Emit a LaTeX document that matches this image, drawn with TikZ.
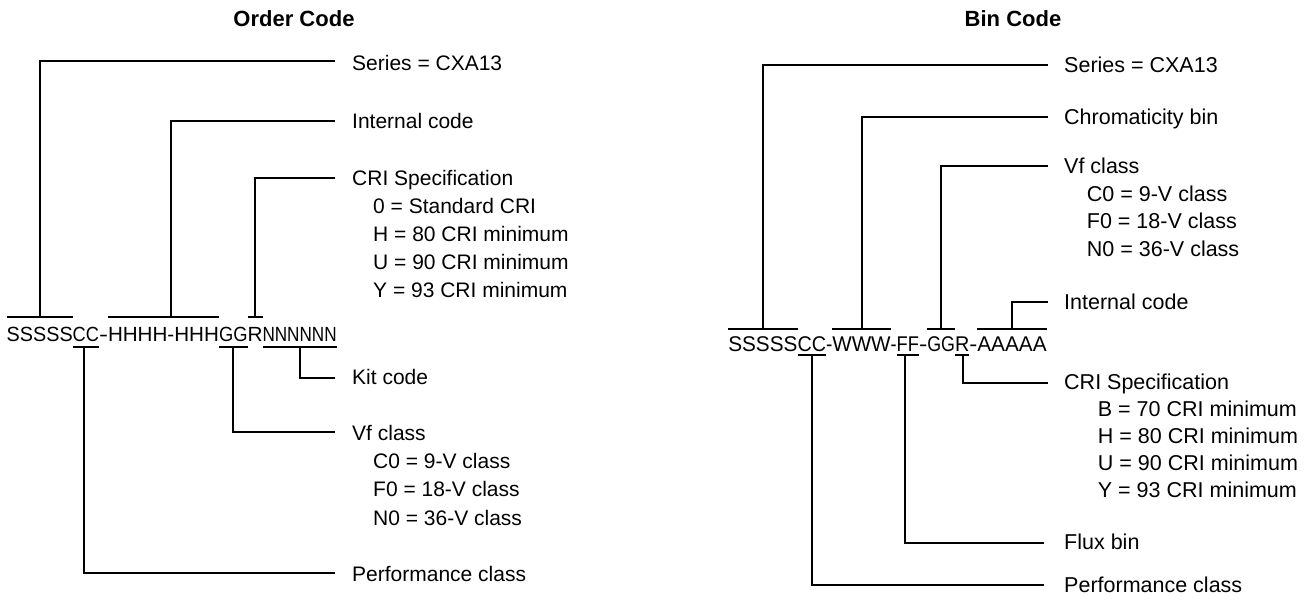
\documentclass[tikz,border=0pt]{standalone}
\usepackage{fontspec}
\usepackage{graphicx}
\setmainfont{Liberation Sans}
\newfontfamily\codefont{Liberation Sans}[FakeStretch=0.94]
\usetikzlibrary{calc}
% set #2 horizontally scaled to the width #1 (in pt)
\newcommand\fitw[2]{\sbox0{#2}\pgfmathsetmacro\fitr{#1/\wd0}\scalebox{\fitr}[1]{\usebox0}}
\tikzset{
  lnk/.style={line width=2pt},
  bar/.style={line width=2pt},
  codeL/.style={inner sep=0pt, outer sep=0pt, anchor=base west, font=\codefont\fontsize{20.5}{24}\selectfont},
  codeR/.style={inner sep=0pt, outer sep=0pt, anchor=base west, font=\codefont\fontsize{21.3}{25}\selectfont},
  labL/.style={inner sep=0pt, anchor=base west, font=\fontsize{21}{24}\selectfont},
  labR/.style={inner sep=0pt, anchor=base west, font=\fontsize{21.5}{25}\selectfont},
  ttl/.style={inner sep=0pt, anchor=base, font=\bfseries\fontsize{22}{26}\selectfont}
}
\begin{document}
\begin{tikzpicture}[x=1pt,y=-1pt]
\fill[white] (0,0) rectangle (1312,605);
\useasboundingbox (0,0) rectangle (1312,605);

% ---------------- Titles
\node[ttl] (t1) at (294,26) {Order Code};
\node[ttl] (t2) at (1013,26) {Bin Code};

% ---------------- Left: order code
\node[codeL] (a1) at (6.7,341.7) {\fitw{66}{SSSSS}};
\node[codeL] (a2) at (a1.base east) {\fitw{26.3}{CC}};
\node[codeL] (a3) at (a2.base east) {\fitw{9}{-}};
\node[codeL] (a4) at (a3.base east) {\fitw{111}{HHHH-HHH}};
\node[codeL] (a5) at (a4.base east) {\fitw{28.5}{GG}};
\node[codeL] (a6) at (a5.base east) {\fitw{15}{R}};
\node[codeL] (a7) at (a6.base east) {\fitw{74.2}{NNNNNN}};

\coordinate (oL) at (0,317.3);
\coordinate (uL) at (0,346.7);
\foreach \n in {a1,a4,a6} \draw[bar] (\n.west|-oL) -- (\n.east|-oL);
\foreach \n in {a2,a5,a7} \draw[bar] (\n.west|-uL) -- (\n.east|-uL);

\coordinate (eSer)  at (335,61);
\coordinate (eInt)  at (335,121);
\coordinate (eCRI)  at (335,178);
\coordinate (eKit)  at (335,377.7);
\coordinate (eVf)   at (335,432.3);
\coordinate (ePerf) at (335,573.3);

\draw[lnk] ($(a1.west|-oL)!0.5!(a1.east|-oL)$) |- (eSer);
\draw[lnk] ($(a4.west|-oL)!0.57!(a4.east|-oL)$) |- (eInt);
\draw[lnk] ($(a6.west|-oL)!0.5!(a6.east|-oL)$) |- (eCRI);
\draw[lnk] ($(a7.west|-uL)!0.5!(a7.east|-uL)$) |- (eKit);
\draw[lnk] ($(a5.west|-uL)!0.5!(a5.east|-uL)$) |- (eVf);
\draw[lnk] ($(a2.west|-uL)!0.43!(a2.east|-uL)$) |- (ePerf);

\node[labL] (lSer)  at (352,70) {Series = CXA13};
\node[labL] (lInt)  at (352,128.5) {Internal code};
\node[labL] (lCRI)  at (352,185.5) {CRI Specification};
\node[labL] (lCRI1) at (373,213) {0 = Standard CRI};
\node[labL] (lCRI2) at (373,241) {H = 80 CRI minimum};
\node[labL] (lCRI3) at (373,269) {U = 90 CRI minimum};
\node[labL] (lCRI4) at (373,297) {Y = 93 CRI minimum};
\node[labL] (lKit)  at (352,384.5) {Kit code};
\node[labL] (lVf)   at (352,440.5) {Vf class};
\node[labL] (lVf1)  at (373,468.7) {C0 = 9-V class};
\node[labL] (lVf2)  at (373,496.9) {F0 = 18-V class};
\node[labL] (lVf3)  at (373,525.1) {N0 = 36-V class};
\node[labL] (lPerf) at (352,581.5) {Performance class};

% ---------------- Right: bin code
\node[codeR] (b1) at (728.3,351.7) {\fitw{69.2}{SSSSS}};
\node[codeR] (b2) at (b1.base east) {\fitw{28.5}{CC}};
\node[codeR] (b3) at (b2.base east) {\fitw{6.3}{-}};
\node[codeR] (b4) at (b3.base east) {\fitw{58.4}{WWW}};
\node[codeR] (b5) at (b4.base east) {\fitw{6}{-}};
\node[codeR] (b6) at (b5.base east) {\fitw{22.3}{FF}};
\node[codeR] (b7) at (b6.base east) {\fitw{8.3}{-}};
\node[codeR] (b8) at (b7.base east) {\fitw{27.7}{GG}};
\node[codeR] (b9) at (b8.base east) {\fitw{14.3}{R}};
\node[codeR] (b10) at (b9.base east) {\fitw{8}{-}};
\node[codeR] (b11) at (b10.base east) {\fitw{69.4}{AAAAA}};

\coordinate (oR) at (0,329.3);
\coordinate (uR) at (0,355);
\foreach \n in {b1,b4,b8,b11} \draw[bar] (\n.west|-oR) -- (\n.east|-oR);
\foreach \n in {b2,b6,b9} \draw[bar] (\n.west|-uR) -- (\n.east|-uR);

\coordinate (fSer)  at (1047.5,65);
\coordinate (fChr)  at (1047.5,116.7);
\coordinate (fVf)   at (1047.5,165.7);
\coordinate (fInt)  at (1047.5,301.7);
\coordinate (fCRI)  at (1047.5,383.3);
\coordinate (fFlux) at (1044,542.7);
\coordinate (fPerf) at (1044,585);

\draw[lnk] ($(b1.west|-oR)!0.5!(b1.east|-oR)$) |- (fSer);
\draw[lnk] ($(b4.west|-oR)!0.5!(b4.east|-oR)$) |- (fChr);
\draw[lnk] ($(b8.west|-oR)!0.5!(b8.east|-oR)$) |- (fVf);
\draw[lnk] ($(b11.west|-oR)!0.5!(b11.east|-oR)$) |- (fInt);
\draw[lnk] ($(b9.west|-uR)!0.58!(b9.east|-uR)$) |- (fCRI);
\draw[lnk] ($(b6.west|-uR)!0.37!(b6.east|-uR)$) |- (fFlux);
\draw[lnk] ($(b2.west|-uR)!0.5!(b2.east|-uR)$) |- (fPerf);

\node[labR] (rSer)  at (1064,72.8) {Series = CXA13};
\node[labR] (rChr)  at (1064,124.5) {Chromaticity bin};
\node[labR] (rVf)   at (1064,173.8) {Vf class};
\node[labR] (rVf1)  at (1086.7,201.3) {C0 = 9-V class};
\node[labR] (rVf2)  at (1086.7,228.8) {F0 = 18-V class};
\node[labR] (rVf3)  at (1086.7,256.3) {N0 = 36-V class};
\node[labR] (rInt)  at (1064,309.3) {Internal code};
\node[labR] (rCRI)  at (1064,389.5) {CRI Specification};
\node[labR] (rCRI1) at (1097.7,416) {B = 70 CRI minimum};
\node[labR] (rCRI2) at (1097.7,443) {H = 80 CRI minimum};
\node[labR] (rCRI3) at (1097.7,470) {U = 90 CRI minimum};
\node[labR] (rCRI4) at (1097.7,497) {Y = 93 CRI minimum};
\node[labR] (rFlux) at (1064,549) {Flux bin};
\node[labR] (rPerf) at (1064,592.8) {Performance class};
\end{tikzpicture}
\end{document}
